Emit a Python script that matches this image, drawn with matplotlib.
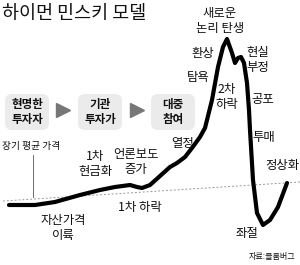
import matplotlib
matplotlib.use("Agg")
import matplotlib.pyplot as plt
from matplotlib.patches import FancyBboxPatch

plt.rcParams['font.family'] = ['Noto Sans CJK KR', 'DejaVu Sans']

# 곡선 (그림 좌표: x 오른쪽, y 아래쪽)
curve_x = [9, 35, 55, 80, 100, 115, 130, 137, 142, 150, 160, 170, 177, 185, 192, 200, 205,
           212, 218, 223, 227, 232, 235, 238, 241, 244, 247, 249, 250, 253, 257, 263, 270, 278, 287]
curve_y = [205, 205, 202, 195, 190, 187, 185, 187, 188, 185, 176, 167, 163, 157, 148, 137, 128,
           100, 67, 47, 39, 53, 63, 58, 57, 63, 83, 110, 130, 180, 213, 225, 220, 207, 183]

# 장기 평균 가격 (점선)
avg_x = [3, 300]
avg_y = [201, 182]

# 단계 박스
box_labels = ['현명한\n투자자', '기관\n투자가', '대중\n참여']
box_cx = [27, 100, 173]
arrow_cx = [63, 137]

# 곡선 라벨
labels = ['1차\n현금화', '언론보도\n증가', '열정', '1차 하락', '자산가격\n이륙',
          '새로운\n논리 탄생', '환상', '탐욕', '2차\n하락', '현실\n부정', '공포',
          '투매', '좌절']
label_x = [95, 136, 183, 140, 63, 220, 203, 198, 227, 258, 263, 264, 247]
label_y = [164, 162, 143, 207, 228, 21, 53, 78, 97, 60, 100, 138, 233]

fig = plt.figure(figsize=(3.0, 2.65), dpi=100)
ax = fig.add_axes([0, 0, 1, 1])
ax.set_xlim(0, 300)
ax.set_ylim(265, 0)
ax.axis('off')

ax.text(2, 14, '하이먼 민스키 모델', fontsize=13.3, color='#111111', va='center', ha='left')

for cx, lab in zip(box_cx, box_labels):
    ax.add_patch(FancyBboxPatch((cx - 22, 94), 44, 36,
                                boxstyle='round,pad=0,rounding_size=7',
                                fc='#ebebeb', ec='none'))
    ax.text(cx, 112, lab, fontsize=8.3, fontweight='bold', color='#111111',
            ha='center', va='center', linespacing=1.25)
ax.plot(arrow_cx, [110] * len(arrow_cx), ls='none', marker='>', ms=10, color='#777777')

ax.plot(avg_x, avg_y, ls=(0, (2, 2)), lw=0.7, color='#999999')
ax.plot([33, 33], [155, 197], lw=0.6, color='#555555')
ax.text(2, 146, '장기 평균 가격', fontsize=7, color='#111111', va='center', ha='left')

ax.plot(curve_x, curve_y, lw=3, color='black', solid_joinstyle='round', solid_capstyle='round')

for x, y, lab in zip(label_x, label_y, labels):
    ax.text(x, y, lab, fontsize=8.9, color='#111111', ha='center', va='center', linespacing=1.2)

ax.text(299, 165, '정상화', fontsize=8.9, color='#111111', ha='right', va='center')
ax.text(272, 257, '자료:블룸버그', fontsize=5.8, color='#111111', ha='center', va='center')

fig.savefig('out.png', dpi=100)
